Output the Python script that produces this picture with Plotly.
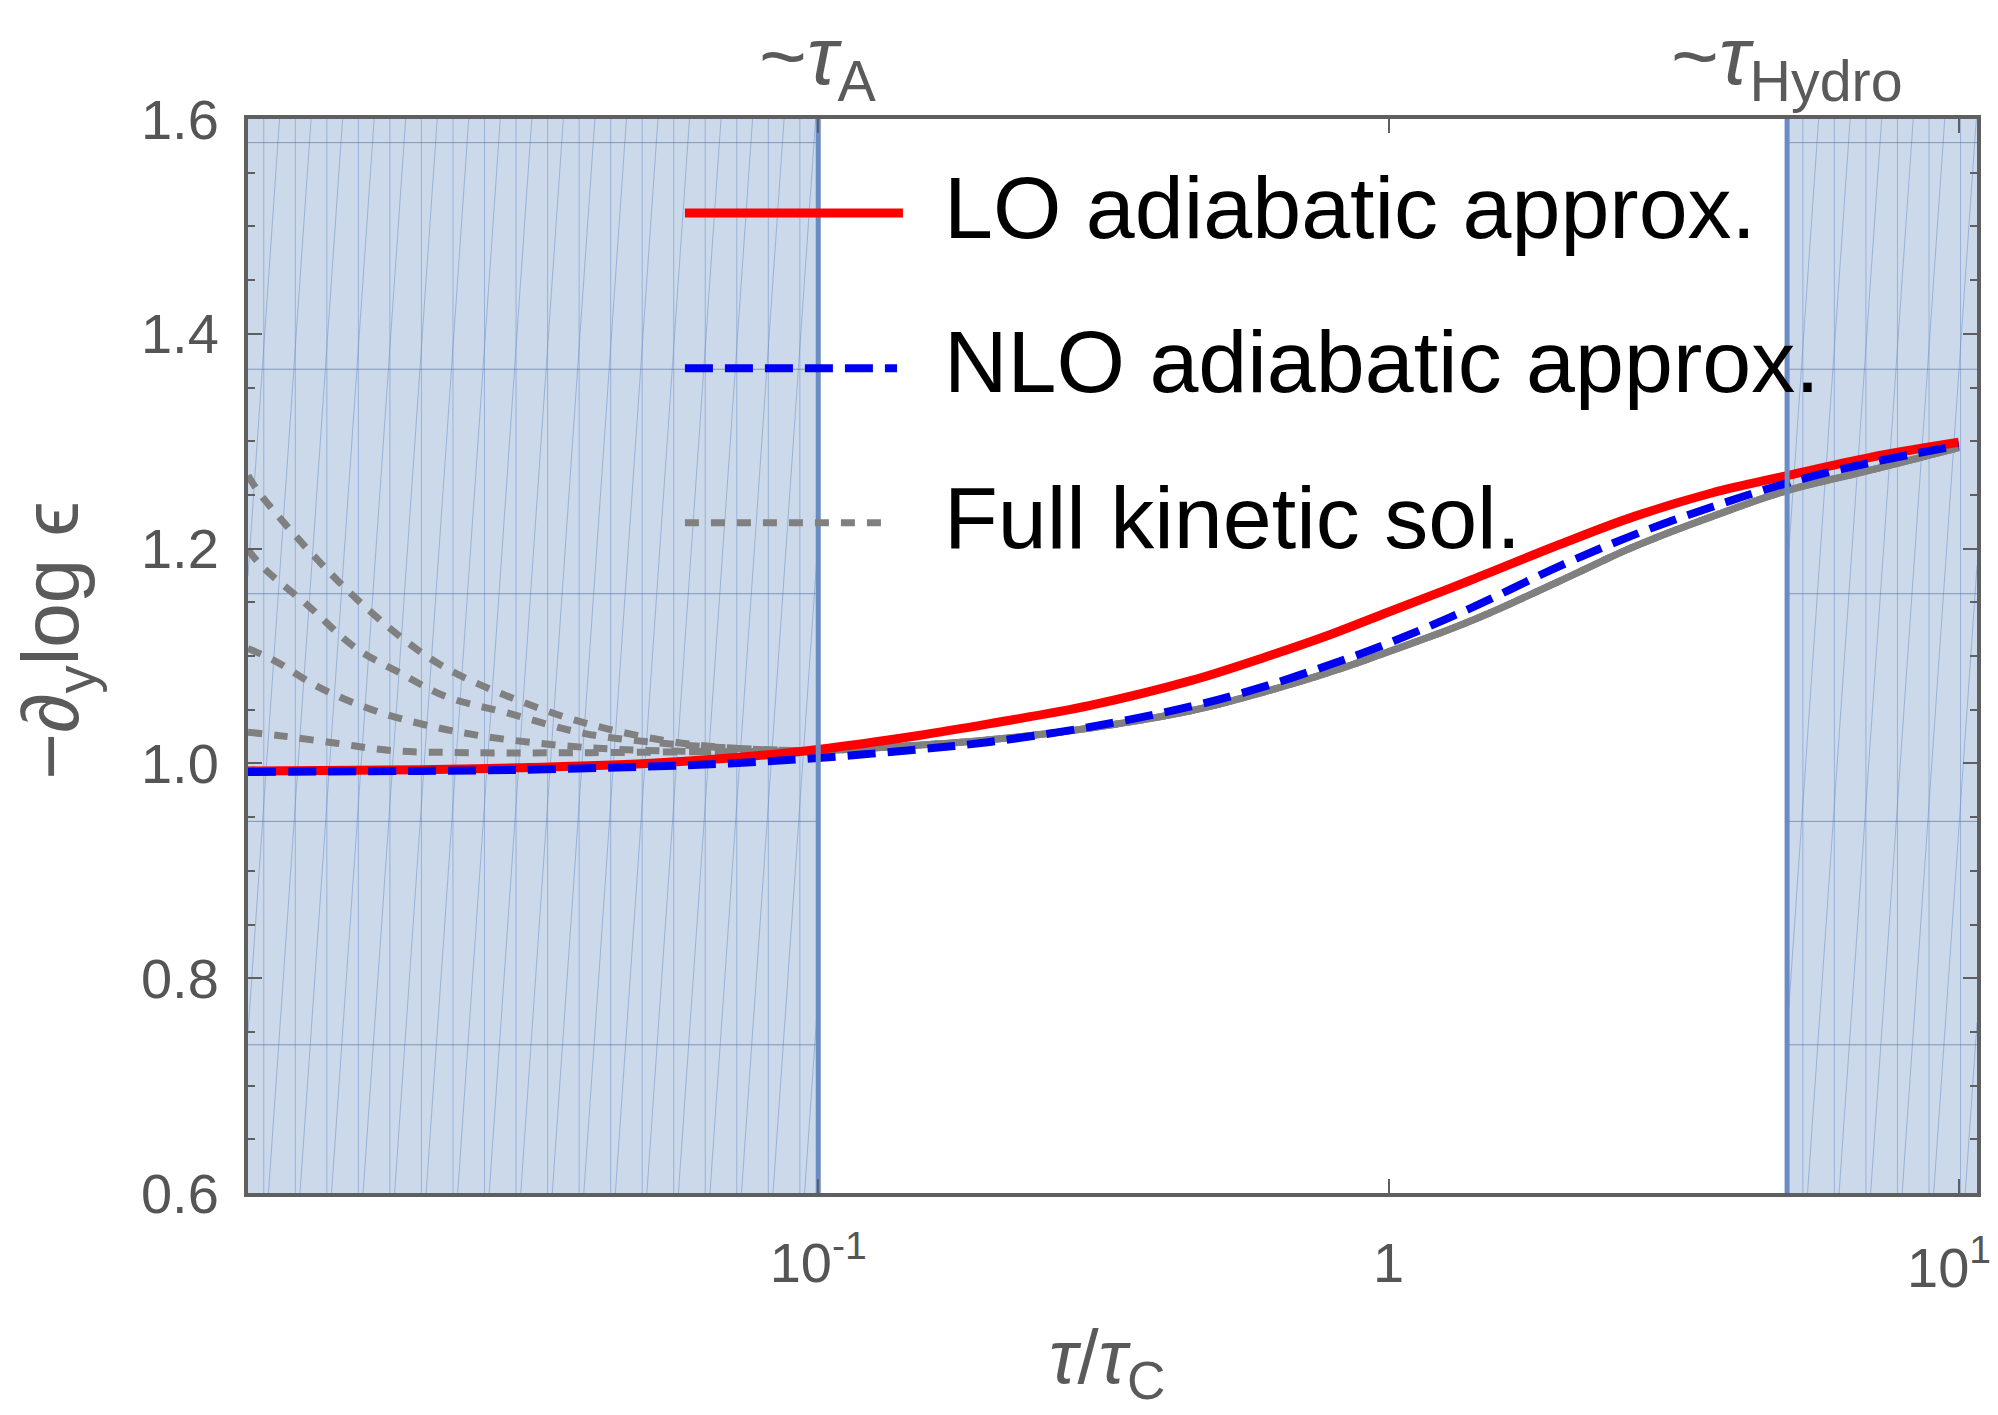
import math
import plotly.graph_objects as go

# ---------------- data ----------------
tau = [0.01, 0.02, 0.03, 0.05, 0.07, 0.1, 0.15, 0.2, 0.3, 0.45, 0.6, 0.8, 1.0,
       1.4, 2.0, 2.7, 3.7, 5.0, 7.0, 10.0]
lo_adiabatic = [0.993, 0.994, 0.996, 1.000, 1.005, 1.013, 1.026, 1.037, 1.054, 1.077,
                1.098, 1.121, 1.141, 1.171, 1.204, 1.230, 1.252, 1.268, 1.285, 1.299]
nlo_adiabatic = [0.992, 0.993, 0.994, 0.997, 1.000, 1.005, 1.013, 1.020, 1.034, 1.053,
                 1.071, 1.093, 1.112, 1.145, 1.184, 1.213, 1.239, 1.261, 1.280, 1.296]

# full kinetic solutions: common late-time branch
tau_kin = [0.1, 0.15, 0.2, 0.3, 0.45, 0.6, 0.8, 1.0, 1.4, 2.0, 2.7, 3.7, 5.0, 7.0, 10.0]
kin_late = [1.012, 1.017, 1.022, 1.033, 1.049, 1.066, 1.086, 1.104, 1.133, 1.170,
            1.202, 1.230, 1.254, 1.273, 1.294]

# early-time branches for different initial conditions
kin1_tau = [0.01, 0.0106, 0.0145, 0.0188, 0.0222, 0.0275, 0.0376, 0.0528, 0.0718]
kin1_val = [1.268, 1.248, 1.168, 1.115, 1.089, 1.066, 1.040, 1.022, 1.014]
kin2_tau = [0.01, 0.0106, 0.0128, 0.0154, 0.0185, 0.0223, 0.0285, 0.0388, 0.0528, 0.0718]
kin2_val = [1.199, 1.183, 1.146, 1.108, 1.084, 1.062, 1.047, 1.028, 1.019, 1.014]
kin3_tau = [0.01, 0.0111, 0.0133, 0.0165, 0.0204, 0.0261, 0.0388, 0.0618]
kin3_val = [1.107, 1.096, 1.071, 1.050, 1.036, 1.025, 1.015, 1.011]
kin4_tau = [0.01, 0.0113, 0.0142, 0.0178, 0.0245, 0.04, 0.065]
kin4_val = [1.029, 1.026, 1.019, 1.012, 1.010, 1.010, 1.011]

tau_A = 0.1
tau_hydro = 5.0
x_range_log = [-2.0, 1.032]
y_range = [0.6, 1.6]
mesh_y = [1.578, 1.367, 1.158, 0.946, 0.738]

legend_names = ["LO adiabatic approx.", "NLO adiabatic approx.", "Full kinetic sol."]
x_tick_vals = [0.1, 1, 10]
x_tick_text = ["10<sup>-1</sup>", "1", ""]
x_last_label = "10<sup>1</sup>"   # drawn separately so it stays inside the page

# ---------------- styles ----------------
RED = "#ff0000"
BLUE = "#0000f0"
GRAY = "#808080"
FILL = "#cbd9ea"
HATCH = "rgba(105,140,200,0.5)"
MESH = "rgba(80,105,150,0.6)"
EDGE = "#6a8cc2"
AX = "#5f5f5f"
TXT = "#5a5a5a"
TICK_TXT = "#555555"
FONT = "Liberation Sans, Arial, sans-serif"
SMOOTH = 1.0

fig = go.Figure()

# ---------------- shaded regions with hatch ----------------
def region(u0, u1):
    x0, x1 = 10 ** u0, 10 ** u1
    fig.add_trace(go.Scatter(
        x=[x0, x1, x1, x0, x0], y=[y_range[0], y_range[0], y_range[1], y_range[1], y_range[0]],
        fill="toself", fillcolor=FILL, line=dict(width=0), mode="lines",
        hoverinfo="skip", showlegend=False))
    d = 0.0553   # hatch spacing in decades
    s = 0.13     # slant (decades across full height)
    xs, ys = [], []
    u = u0 + d / 2
    while u < u1:
        xs += [10 ** u, 10 ** u, None]
        ys += [y_range[0], y_range[1], None]
        u += d
    ub = u0 - s
    span = y_range[1] - y_range[0]
    while ub < u1:
        tmin = max(0.0, (u0 - ub) / s)
        tmax = min(1.0, (u1 - ub) / s)
        if tmin < tmax:
            xs += [10 ** (ub + s * tmin), 10 ** (ub + s * tmax), None]
            ys += [y_range[0] + span * tmin, y_range[0] + span * tmax, None]
        ub += d
    fig.add_trace(go.Scatter(x=xs, y=ys, mode="lines", line=dict(color=HATCH, width=1),
                             hoverinfo="skip", showlegend=False))
    mx, my = [], []
    for m in mesh_y:
        mx += [x0, x1, None]
        my += [m, m, None]
    fig.add_trace(go.Scatter(x=mx, y=my, mode="lines", line=dict(color=MESH, width=1),
                             hoverinfo="skip", showlegend=False))

region(x_range_log[0], math.log10(tau_A))
region(math.log10(tau_hydro), x_range_log[1])

# ---------------- curves ----------------
kin_sets = [(kin1_tau, kin1_val), (kin2_tau, kin2_val), (kin3_tau, kin3_val), (kin4_tau, kin4_val)]
for i, (kt, kv) in enumerate(kin_sets):
    fig.add_trace(go.Scatter(
        x=kt + tau_kin, y=kv + kin_late, mode="lines", name=legend_names[2],
        line=dict(color=GRAY, width=7, dash="14px,12px", shape="spline", smoothing=SMOOTH),
        showlegend=False))

fig.add_trace(go.Scatter(x=tau, y=lo_adiabatic, mode="lines", name=legend_names[0],
                         line=dict(color=RED, width=9, shape="spline", smoothing=SMOOTH),
                         showlegend=False))
fig.add_trace(go.Scatter(x=tau, y=nlo_adiabatic, mode="lines", name=legend_names[1],
                         line=dict(color=BLUE, width=8, dash="28px,12px", shape="spline", smoothing=SMOOTH),
                         showlegend=False))

# boundary lines
for tb in (tau_A, tau_hydro):
    fig.add_trace(go.Scatter(x=[tb, tb], y=y_range, mode="lines",
                             line=dict(color=EDGE, width=5), hoverinfo="skip", showlegend=False))

# ---------------- custom legend ----------------
legend_rows = [
    (legend_names[0], dict(color=RED, width=9, dash="solid"), 0.3788, 0.9125, 0.918),
    (legend_names[1], dict(color=BLUE, width=8, dash="28px,12px"), 0.3754, 0.768, 0.774),
    (legend_names[2], dict(color=GRAY, width=7, dash="14px,12px"), 0.3730, 0.624, 0.629),
]
shapes = []
annotations = []
for name, ln, xend, yl, yt in legend_rows:
    shapes.append(dict(type="line", xref="paper", yref="paper", x0=0.2527, x1=xend,
                       y0=yl, y1=yl, line=ln))
    annotations.append(dict(text=name, xref="paper", yref="paper", x=0.4014, y=yt,
                            xanchor="left", yanchor="middle", showarrow=False,
                            font=dict(family=FONT, size=88, color="black")))

# top labels
annotations.append(dict(text="~<i>τ</i><sub>A</sub>", xref="x", yref="paper",
                        x=math.log10(tau_A), y=1.054, xanchor="center", yanchor="middle",
                        showarrow=False, font=dict(family=FONT, size=82, color=TXT)))
annotations.append(dict(text="~<i>τ</i><sub>Hydro</sub>", xref="x", yref="paper",
                        x=math.log10(tau_hydro), y=1.054, xanchor="center", yanchor="middle",
                        showarrow=False, font=dict(family=FONT, size=82, color=TXT)))
# last x tick label, kept inside the page
annotations.append(dict(text=x_last_label, xref="paper", yref="paper",
                        x=1.0095, y=-0.031, xanchor="right", yanchor="top",
                        showarrow=False, font=dict(family=FONT, size=56, color=TICK_TXT)))
# axis titles
annotations.append(dict(text="−∂<sub>y</sub>log ϵ", xref="paper", yref="paper",
                        x=-0.1105, y=0.515, textangle=-90, xanchor="center", yanchor="middle",
                        showarrow=False, font=dict(family=FONT, size=80, color=TXT)))
annotations.append(dict(text="<i>τ</i>/<i>τ</i><sub>C</sub>", xref="paper", yref="paper",
                        x=0.497, y=-0.157, xanchor="center", yanchor="middle",
                        showarrow=False, font=dict(family=FONT, size=76, color=TXT)))

fig.update_layout(
    width=1998, height=1415,
    margin=dict(l=248, r=21, t=119, b=222, autoexpand=False),
    paper_bgcolor="white", plot_bgcolor="white",
    shapes=shapes, annotations=annotations, showlegend=False,
    font=dict(family=FONT),
)
fig.update_xaxes(
    type="log", range=x_range_log, showgrid=False, zeroline=False, automargin=False,
    showline=True, linecolor=AX, linewidth=4, mirror="ticks",
    ticks="inside", ticklen=14, tickwidth=2, tickcolor=AX,
    tickvals=x_tick_vals, ticktext=x_tick_text,
    tickfont=dict(family=FONT, size=56, color=TICK_TXT), ticklabelstandoff=18,
)
fig.update_yaxes(
    range=y_range, tick0=0.6, dtick=0.2, tickformat=".1f", showgrid=False, zeroline=False,
    automargin=False,
    showline=True, linecolor=AX, linewidth=4, mirror="ticks",
    ticks="inside", ticklen=14, tickwidth=2, tickcolor=AX,
    minor=dict(dtick=0.05, ticks="inside", ticklen=7, tickwidth=2, tickcolor=AX, showgrid=False),
    tickfont=dict(family=FONT, size=56, color=TICK_TXT), ticklabelstandoff=14,
)

fig.write_html("out.html", config={"displayModeBar": False})
